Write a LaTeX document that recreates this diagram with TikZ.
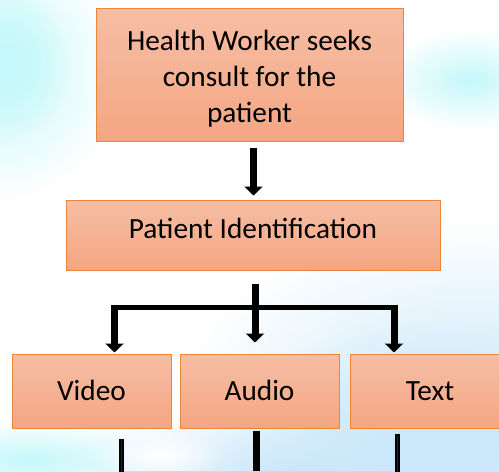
\documentclass[tikz,border=0pt]{standalone}
\usepackage{fontspec}
\setmainfont{Carlito}
\usetikzlibrary{arrows.meta,fadings}
\tikzfading[name=softfade, inner color=transparent!0, outer color=transparent!100]
\definecolor{boxtop}{RGB}{246,190,165}
\definecolor{boxbot}{RGB}{244,166,130}
\definecolor{boxedge}{RGB}{238,132,56}
\definecolor{skycyan}{RGB}{196,248,250}
\definecolor{skyblue}{RGB}{202,232,250}
\definecolor{navy}{RGB}{30,40,60}
\tikzset{
  boxfont/.style={font=\fontsize{29.3}{36}\selectfont},
  box/.style={draw=boxedge, line width=1pt, top color=boxtop, bottom color=boxbot,
    inner sep=0pt, align=center, boxfont},
  onebox/.style={box, text height=18.5pt, text depth=0pt},
  label/.style={inner sep=0pt, align=center, boxfont},
  arr/.style={line width=7pt, -{Triangle[width=18pt,length=9pt]}},
  bar/.style={line width=5pt},
  stub/.style={line width=7pt},
}
\begin{document}
\begin{tikzpicture}[x=1pt,y=-1pt]
\useasboundingbox (0,0) rectangle (499,472);
\clip (0,0) rectangle (499,472);
% background
\fill[white] (0,0) rectangle (499,472);
\fill[skyblue, path fading=softfade] (470,420) ellipse (300 and 200);
\fill[skyblue, path fading=softfade] (430,440) ellipse (200 and 120);
\fill[skyblue, path fading=softfade] (300,470) ellipse (260 and 60);
\fill[skycyan, path fading=softfade] (0,70) ellipse (120 and 130);
\fill[skycyan, path fading=softfade] (10,60) ellipse (60 and 80);
\fill[skycyan, path fading=softfade] (470,80) ellipse (90 and 50);
\fill[skycyan, path fading=softfade] (30,460) ellipse (140 and 40);
\fill[white, path fading=softfade] (160,455) ellipse (70 and 25);
% nodes
\node[box, minimum width=307pt, minimum height=133pt] (top) at (249.5,74.5) {};
\node[label] (toptext) at ([yshift=-4pt]top.center)
  {Health Worker seeks\\consult for the\\patient};
\node[onebox, minimum width=374pt, minimum height=70pt] (pid) at (253,235) {};
\node[label, text height=18.5pt] (pidtext) at ([yshift=6pt]pid.center) {Patient Identification};
\node[onebox, minimum width=159pt, minimum height=74pt] (video) at (91.5,391) {Video};
\node[onebox, minimum width=159pt, minimum height=74pt] (audio) at (259.5,391) {Audio};
\node[onebox, minimum width=159pt, minimum height=74pt, anchor=west] (text) at (350,391) {Text};
% connectors
\coordinate (jc) at (255,307);
\coordinate (jl) at (114.5,307);
\coordinate (jr) at (394,307);
\draw[arr] ([xshift=4pt,yshift=-6pt]top.south) -- ([xshift=0.5pt,yshift=4pt]pid.north);
\draw[bar] ([xshift=-2.5pt]jl) -- ([xshift=2.5pt]jr);
\draw[stub] ([yshift=-13pt]jc |- pid.south) -- (jc);
\draw[arr] (jc) -- ([yshift=11pt]jc |- audio.north);
\draw[arr] ([yshift=2.5pt]jl) -- ([yshift=1pt]jl |- video.north);
\draw[arr] ([yshift=2.5pt]jr) -- ([yshift=1pt]jr |- text.north);
% lines leaving below
\coordinate (bl) at (121,472);
\coordinate (bc) at (256.5,472);
\coordinate (br) at (397,472);
\draw[black, line width=5pt] ([yshift=-10pt]bl |- video.south) -- (bl);
\draw[navy!70!blue, line width=1pt] ([yshift=-12pt]bl |- video.south) -- (bl);
\draw[stub] ([yshift=-2pt]bc |- audio.south) -- (bc);
\draw[black, line width=5pt] ([yshift=-5pt]br |- text.south) -- (br);
\draw[navy!70!blue, line width=1pt] ([yshift=-7pt]br |- text.south) -- (br);
\draw[gray!30, line width=1pt] (124,471.5) -- (394,471.5);
\end{tikzpicture}
\end{document}
